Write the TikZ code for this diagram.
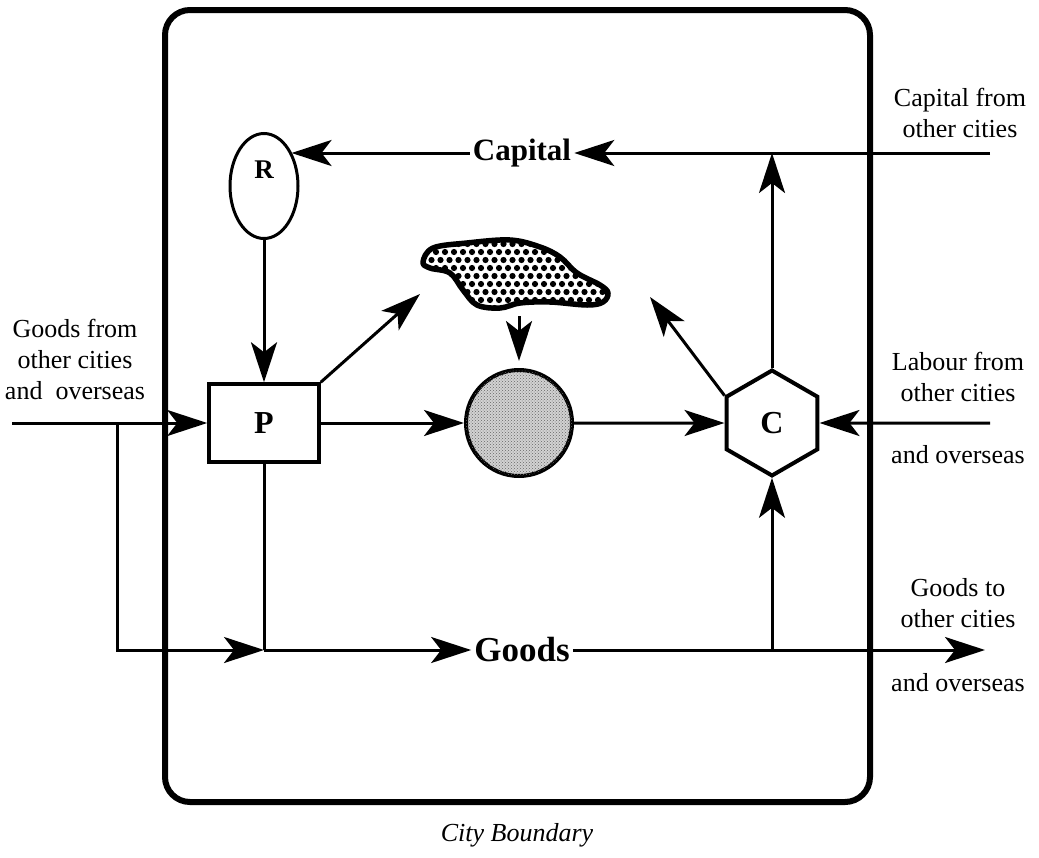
\documentclass[tikz,border=0pt]{standalone}
\usepackage{fontspec}
\setmainfont{Liberation Serif}
\usetikzlibrary{arrows.meta,shapes.geometric,patterns}

\begin{document}
\begin{tikzpicture}[x=1pt,y=-1pt,
  flow/.style={line width=3pt, -{Stealth[length=40pt,width=26pt,inset=10pt]}},
  plain/.style={line width=3pt},
  lbl/.style={align=center, inner sep=0pt, font=\fontsize{26}{31}\selectfont},
  big/.style={inner sep=3pt, font=\fontsize{31}{34}\selectfont\bfseries},
  letter/.style={font=\fontsize{32}{36}\selectfont\bfseries},
]
\useasboundingbox (0,0) rectangle (1039,857);

% city boundary
\draw[line width=6pt, rounded corners=25pt] (165,10) rectangle (870,802);
\node[font=\fontsize{26}{30}\selectfont\itshape] (city) at (517,835) {City Boundary};

% main stocks
\node[draw, ellipse, line width=3pt, minimum width=68pt, minimum height=105pt, inner sep=0pt] (R) at (264,186) {};
\node[font=\fontsize{27}{30}\selectfont\bfseries] (Rl) at (264,170) {R};
\node[draw, rectangle, line width=3.5pt, minimum width=110pt, minimum height=78pt, letter] (P) at (264,423) {P};
\node[draw, circle, line width=4pt, minimum size=106pt, inner sep=0pt, fill=gray!35,
      postaction={pattern=crosshatch dots, pattern color=black!60}] (ball) at (519,423) {};
\node[draw, regular polygon, regular polygon sides=6, shape border rotate=30, line width=4pt,
      minimum size=105pt, inner sep=0pt, letter] (C) at (772,423) {C};
\node[big] (Capital) at (522,153) {Capital};
\node[big, font=\fontsize{35}{38}\selectfont\bfseries] (Goods) at (522,650) {Goods};

% stippled cloud
\def\blobpath{plot[smooth cycle, tension=0.6] coordinates {(423,262) (433,248) (467,243) (510,240) (540,247) (560,257) (577,273) (600,285) (608,293) (603,302) (587,305) (550,302) (520,303) (500,308) (477,305) (463,290) (450,273) (430,268)}}
\fill[white] \blobpath;
\begin{scope}
  \clip \blobpath;
  \foreach \i in {0,...,22} {
    \foreach \j in {0,...,9} {
      \fill ({418+\i*9+mod(\j,2)*4.5},{236+\j*8}) circle (3.1pt);
    }
  }
\end{scope}
\draw[line width=5.5pt, line join=round] \blobpath;

% connector ends
\coordinate (inL) at (12,423);
\coordinate (br) at (117,423);
\coordinate (J) at (264,650);
\coordinate (gout) at (985,650);
\coordinate (capin) at (990,153);
\coordinate (labin) at (990,423);
\coordinate (blobL) at (420,294);
\coordinate (blobR) at (650,297);
\coordinate (blobB) at (519,316);

% flows
\draw[flow] (inL) -- (P.west);
\draw[flow] (br) |- (J);
\draw[plain] (P.south) -- (J);
\draw[flow] (J) -- (Goods.west);
\draw[flow] (Goods.east) -- (gout);
\draw[flow] (Goods.east -| C.270) -- (C.270);
\draw[flow] (capin) -- (Capital.east);
\draw[flow] (Capital.west) -- (Capital.west -| R.51);
\draw[flow] (R.south) -- (P.north);
\draw[flow] (P.east) -- (ball.west);
\draw[flow] (ball.east) -- (C.180);
\draw[flow] (labin) -- (C.0);
\draw[flow] (C.90) -- (C.90 |- Capital.west);
\draw[flow] (C.150) -- (blobR);
\draw[flow] (P.north east) -- (blobL);
\draw[flow, shorten >=7pt] (blobB) -- (ball.north);

% outside labels
\node[lbl] (gin) at (75,359) {Goods from\\other cities\\and~ overseas};
\node[lbl] (capfrom) at (960,113) {Capital from\\other cities};
\node[lbl] (labfrom) at (958,377) {Labour from\\other cities};
\node[lbl] (labover) at (958,455) {and overseas};
\node[lbl] (gto) at (958,603) {Goods to\\other cities};
\node[lbl] (gover) at (958,683) {and overseas};
\end{tikzpicture}
\end{document}
